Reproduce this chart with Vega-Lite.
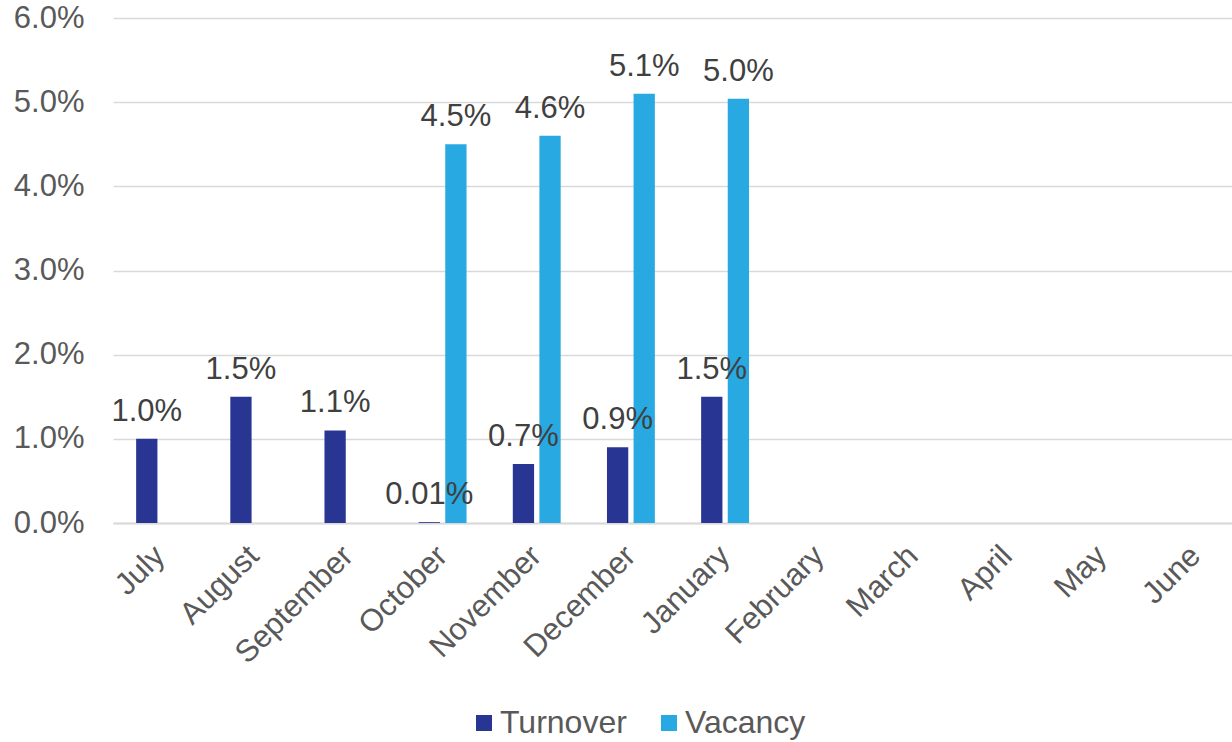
{
  "$schema": "https://vega.github.io/schema/vega-lite/v6.json",
  "width": 1119,
  "height": 505,
  "autosize": {"type": "none"},
  "padding": {"left": 113, "top": 18, "right": 0, "bottom": 219},
  "config": {
    "view": {"stroke": null},
    "font": "Liberation Sans"
  },
  "data": {
    "values": [
      {"month": "July", "series": "Turnover", "value": 0.010, "label": "1.0%"},
      {"month": "August", "series": "Turnover", "value": 0.015, "label": "1.5%"},
      {"month": "September", "series": "Turnover", "value": 0.011, "label": "1.1%"},
      {"month": "October", "series": "Turnover", "value": 0.0001, "label": "0.01%"},
      {"month": "October", "series": "Vacancy", "value": 0.045, "label": "4.5%"},
      {"month": "November", "series": "Turnover", "value": 0.007, "label": "0.7%"},
      {"month": "November", "series": "Vacancy", "value": 0.046, "label": "4.6%"},
      {"month": "December", "series": "Turnover", "value": 0.009, "label": "0.9%"},
      {"month": "December", "series": "Vacancy", "value": 0.051, "label": "5.1%"},
      {"month": "January", "series": "Turnover", "value": 0.015, "label": "1.5%"},
      {"month": "January", "series": "Vacancy", "value": 0.0504, "label": "5.0%"}
    ]
  },
  "encoding": {
    "x": {
      "field": "month",
      "type": "nominal",
      "sort": null,
      "scale": {
        "domain": ["July", "August", "September", "October", "November", "December", "January", "February", "March", "April", "May", "June"],
        "range": [0, 1130],
        "paddingInner": 0,
        "paddingOuter": 0
      },
      "axis": {
        "title": null,
        "labelAngle": -45,
        "labelAlign": "right",
        "labelBaseline": "middle",
        "labelFontSize": 31,
        "labelColor": "#595959",
        "labelPadding": 28,
        "labelOffset": 0,
        "ticks": false,
        "grid": false,
        "domainColor": "#d9d9d9",
        "domainWidth": 2
      }
    },
    "xOffset": {
      "field": "series",
      "type": "nominal",
      "scale": {"domain": ["Turnover", "Vacancy"], "paddingInner": 0.2, "paddingOuter": 0.87}
    },
    "y": {
      "field": "value",
      "type": "quantitative",
      "scale": {"domain": [0, 0.06], "nice": false},
      "axis": {
        "title": null,
        "format": ".1%",
        "values": [0, 0.01, 0.02, 0.03, 0.04, 0.05, 0.06],
        "labelFontSize": 31,
        "labelColor": "#595959",
        "labelPadding": 29,
        "ticks": false,
        "domain": false,
        "gridColor": "#d9d9d9",
        "gridWidth": 1.5
      }
    }
  },
  "layer": [
    {
      "mark": {"type": "bar"},
      "encoding": {
        "color": {
          "field": "series",
          "type": "nominal",
          "scale": {"domain": ["Turnover", "Vacancy"], "range": ["#283593", "#29a9e1"]},
          "legend": {
            "title": null,
            "orient": "none",
            "direction": "horizontal",
            "legendX": 355,
            "legendY": 689,
            "symbolType": "square",
            "symbolSize": 256,
            "symbolStrokeWidth": 0,
            "labelFontSize": 32,
            "labelColor": "#595959",
            "labelOffset": 0,
            "columnPadding": 26
          }
        }
      }
    },
    {
      "mark": {"type": "text", "fontSize": 31, "color": "#404040", "baseline": "alphabetic", "dy": -18},
      "encoding": {"text": {"field": "label"}}
    }
  ]
}
